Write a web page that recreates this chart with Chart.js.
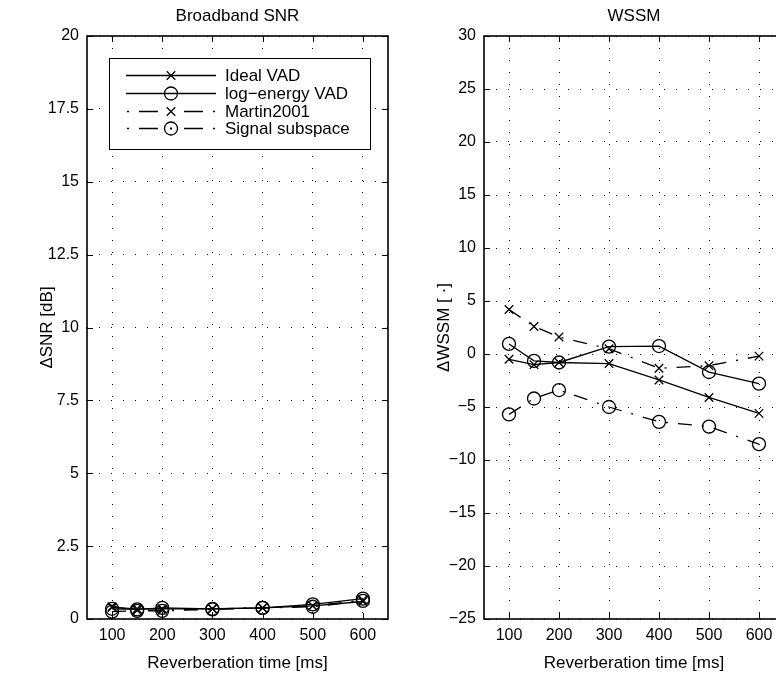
<!DOCTYPE html>
<html>
<head>
<meta charset="utf-8">
<script src="https://cdn.jsdelivr.net/npm/chart.js@4.4.0/dist/chart.umd.min.js"></script>
<style>
  html, body { margin: 0; padding: 0; background: #fff; overflow: hidden; }
  body { width: 776px; height: 678px; position: relative; }
  .panel { position: absolute; top: 0; width: 400px; height: 678px; }
</style>
</head>
<body>
<div class="panel" style="left:0"><canvas id="snr"></canvas></div>
<div class="panel" style="left:400px"><canvas id="wssm"></canvas></div>
<script>
// x values (reverberation time, ms) and tick labels
const reverbTimes = [100, 150, 200, 300, 400, 500, 600];
const xTicks = [100, 200, 300, 400, 500, 600];
const seriesNames = ['Ideal VAD', 'log\u2212energy VAD', 'Martin2001', 'Signal subspace'];

// Broadband SNR improvement [dB]
const snrIdeal   = [0.40, 0.35, 0.35, 0.35, 0.38, 0.45, 0.60];
const snrLogE    = [0.35, 0.33, 0.38, 0.35, 0.38, 0.50, 0.70];
const snrMartin  = [0.42, 0.30, 0.30, 0.35, 0.38, 0.45, 0.65];
const snrSubsp   = [0.25, 0.28, 0.28, 0.33, 0.38, 0.42, 0.62];
const snrTicks   = [0, 2.5, 5, 7.5, 10, 12.5, 15, 17.5, 20];

// WSSM change [-]
const wssmIdeal  = [-0.5, -1.0, -0.8, -0.9, -2.45, -4.1, -5.6];
const wssmLogE   = [0.95, -0.65, -0.8, 0.7, 0.75, -1.7, -2.8];
const wssmMartin = [4.2, 2.6, 1.6, 0.5, -1.35, -1.1, -0.2];
const wssmSubsp  = [-5.7, -4.2, -3.4, -5.0, -6.4, -6.85, -8.5];
const wssmTicks  = [-25, -20, -15, -10, -5, 0, 5, 10, 15, 20, 25, 30];

const FONT = '"Liberation Sans", Arial, Helvetica, sans-serif';
const tickFont = { family: FONT, size: 16 };
const labelFont = { family: FONT, size: 17 };

// matlab-ish line specs: '-x', '-o', '-.x', '-.o'
const dashDot = [14, 10, 2, 10];
const lineDash = [[], [], dashDot, dashDot];
const markers = ['crossRot', 'circle', 'crossRot', 'circle'];
const markerSize = [6, 6.5, 6, 6.5];

function makeSets(series) {
    return series.map((ys, i) => ({
        label: seriesNames[i],
        data: reverbTimes.map((t, j) => ({ x: t, y: ys[j] })),
        borderColor: '#000',
        borderWidth: 1.3,
        borderDash: lineDash[i],
        pointStyle: markers[i],
        pointRadius: markerSize[i],
        pointBorderColor: '#000',
        pointBackgroundColor: 'rgba(0,0,0,0)',
        pointBorderWidth: 1.3,
        tension: 0,
        fill: false
    }));
}

function minusSign(v) {
    return v < 0 ? '\u2212' + Math.abs(v) : String(v);
}

function makeScales(yTicks, yTitle, yWidth, yTitlePad) {
    return {
        x: {
            type: 'linear', min: 50, max: 650,
            afterBuildTicks: s => { s.ticks = xTicks.map(v => ({ value: v })); },
            afterFit: s => { s.height = 59; },
            ticks: { color: '#000', font: tickFont, padding: 7, maxRotation: 0, autoSkip: false, callback: v => String(v) },
            grid: { color: '#000', lineWidth: 1, drawTicks: false },
            border: { display: false, dash: [1, 11] },
            title: { display: true, text: 'Reverberation time [ms]', color: '#000', font: labelFont, padding: { top: 0, bottom: 4 } }
        },
        y: {
            type: 'linear', min: yTicks[0], max: yTicks[yTicks.length - 1],
            afterBuildTicks: s => { s.ticks = yTicks.map(v => ({ value: v })); },
            afterFit: s => { s.width = yWidth; },
            ticks: { color: '#000', font: tickFont, padding: 8, autoSkip: false, callback: minusSign },
            grid: { color: '#000', lineWidth: 1, drawTicks: false },
            border: { display: false, dash: [1, 11] },
            title: { display: true, text: yTitle, color: '#000', font: labelFont, padding: { top: yTitlePad, bottom: 0 } }
        }
    };
}

// box around the axes, inward tick marks and the axes title
const framePlugin = {
    id: 'frame',
    afterDraw(chart, args, opts) {
        const { ctx, chartArea: a, scales: { x, y } } = chart;
        ctx.save();
        ctx.setLineDash([]);
        ctx.strokeStyle = '#000';
        ctx.lineWidth = 1;
        ctx.beginPath();
        x.ticks.forEach(t => {
            const px = Math.round(x.getPixelForValue(t.value)) + 0.5;
            ctx.moveTo(px, a.bottom); ctx.lineTo(px, a.bottom - 6);
            ctx.moveTo(px, a.top); ctx.lineTo(px, a.top + 6);
        });
        y.ticks.forEach(t => {
            const py = Math.round(y.getPixelForValue(t.value)) + 0.5;
            ctx.moveTo(a.left, py); ctx.lineTo(a.left + 6, py);
            ctx.moveTo(a.right, py); ctx.lineTo(a.right - 6, py);
        });
        ctx.stroke();
        ctx.lineWidth = 1.6;
        ctx.strokeRect(a.left, a.top, a.right - a.left, a.bottom - a.top);

        ctx.fillStyle = '#000';
        ctx.font = '17px ' + FONT;
        ctx.textAlign = 'center';
        ctx.textBaseline = 'middle';
        ctx.fillText(opts.text, (a.left + a.right) / 2, 16);
        ctx.restore();
    }
};

// legend box drawn inside the left axes (upper left)
const boxLegend = {
    id: 'boxLegend',
    afterDraw(chart, args, opts) {
        if (!opts.show) return;
        const { ctx } = chart;
        const bx = 109, by = 58, bw = 261, bh = 91;
        ctx.save();
        ctx.fillStyle = '#fff';
        ctx.fillRect(bx, by, bw, bh);
        ctx.setLineDash([]);
        ctx.strokeStyle = '#000';
        ctx.lineWidth = 1;
        ctx.strokeRect(bx + 0.5, by + 0.5, bw, bh);
        ctx.font = '17px ' + FONT;
        ctx.textAlign = 'left';
        ctx.textBaseline = 'middle';
        chart.data.datasets.forEach((ds, i) => {
            const yy = Math.round(by + 17 + i * 17.8) + 0.5;
            ctx.lineWidth = 1.3;
            ctx.beginPath();
            if (ds.borderDash.length) {
                // dot - dash - marker - dash - dot
                ctx.moveTo(127, yy); ctx.lineTo(129, yy);
                ctx.moveTo(139, yy); ctx.lineTo(158, yy);
                ctx.moveTo(184, yy); ctx.lineTo(203, yy);
                ctx.moveTo(213, yy); ctx.lineTo(215, yy);
            } else {
                ctx.moveTo(126, yy); ctx.lineTo(216, yy);
            }
            ctx.stroke();
            ctx.fillStyle = 'rgba(0,0,0,0)';
            Chart.helpers.drawPoint(ctx, {
                pointStyle: ds.pointStyle, radius: ds.pointRadius, rotation: 0, borderWidth: 1.3
            }, 171, yy);
            ctx.fillStyle = '#000';
            if (ds.pointStyle === 'circle' && ds.borderDash.length) {
                ctx.fillRect(170, yy - 1, 2, 2);
            }
            ctx.fillText(ds.label, 225, yy + 1);
        });
        ctx.restore();
    }
};

function makeChart(id, series, yTicks, yTitle, yWidth, yTitlePad, padRight, title, legend) {
    return new Chart(document.getElementById(id), {
        type: 'line',
        data: { datasets: makeSets(series) },
        options: {
            responsive: true,
            maintainAspectRatio: false,
            animation: false,
            layout: { padding: { top: 36, right: padRight, left: 0, bottom: 0 } },
            scales: makeScales(yTicks, yTitle, yWidth, yTitlePad),
            plugins: {
                legend: { display: false },
                tooltip: { enabled: false },
                frame: { text: title },
                boxLegend: { show: legend }
            }
        },
        plugins: [framePlugin, boxLegend]
    });
}

makeChart('snr', [snrIdeal, snrLogE, snrMartin, snrSubsp], snrTicks,
    '\u0394SNR [dB]', 87, 37, 12, 'Broadband SNR', true);
makeChart('wssm', [wssmIdeal, wssmLogE, wssmMartin, wssmSubsp], wssmTicks,
    '\u0394WSSM [ \u00b7]', 84, 34, 16, 'WSSM', false);
</script>
</body>
</html>
